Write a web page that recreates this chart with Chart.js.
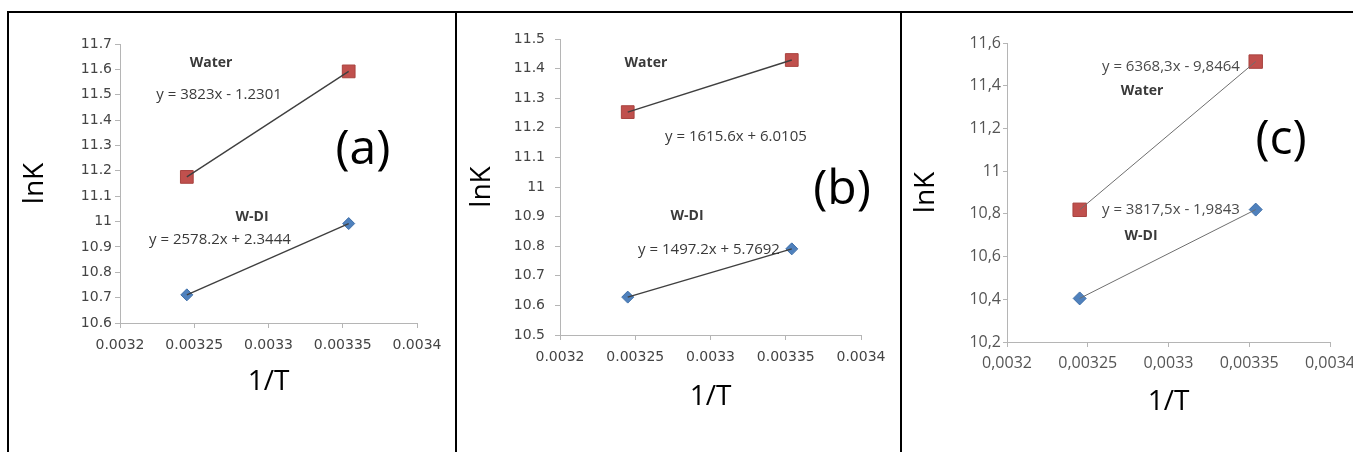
<!DOCTYPE html>
<html>
<head>
<meta charset="utf-8">
<script src="https://cdn.jsdelivr.net/npm/chart.js@4.4.1/dist/chart.umd.min.js"></script>
<style>
  html, body { margin: 0; padding: 0; background: #fff; overflow: hidden; width: 1353px; height: 452px; }
  .rule { position: absolute; background: #000; }
  canvas { position: absolute; }
</style>
</head>
<body>
<!-- table frame around the three panels -->
<div class="rule" style="left:7px;top:11px;width:1346px;height:2px"></div>
<div class="rule" style="left:7px;top:11px;width:2px;height:441px"></div>
<div class="rule" style="left:455px;top:11px;width:2px;height:441px"></div>
<div class="rule" style="left:900px;top:11px;width:2px;height:441px"></div>

<canvas id="panelA" width="443" height="438" style="left:10px;top:14px"></canvas>
<canvas id="panelB" width="442" height="438" style="left:458px;top:14px"></canvas>
<canvas id="panelC" width="470" height="438" style="left:903px;top:14px"></canvas>

<script>
// 1/T values (K^-1) shared by all three panels
const invT = [0.003245, 0.003354];

// ln K values per panel and series
const waterA = [11.176, 11.592];
const wdiA   = [10.711, 10.992];
const waterB = [11.253, 11.429];
const wdiB   = [10.628, 10.791];
const waterC = [10.819, 11.513];
const wdiC   = [10.404, 10.820];

// axis ticks
const xTicks = [0.0032, 0.00325, 0.0033, 0.00335, 0.0034];
const xTickLabelsDot   = ['0.0032', '0.00325', '0.0033', '0.00335', '0.0034'];
const xTickLabelsComma = ['0,0032', '0,00325', '0,0033', '0,00335', '0,0034'];

const yTicksA = [10.6, 10.7, 10.8, 10.9, 11, 11.1, 11.2, 11.3, 11.4, 11.5, 11.6, 11.7];
const yTickLabelsA = ['10.6', '10.7', '10.8', '10.9', '11', '11.1', '11.2', '11.3', '11.4', '11.5', '11.6', '11.7'];
const yTicksB = [10.5, 10.6, 10.7, 10.8, 10.9, 11, 11.1, 11.2, 11.3, 11.4, 11.5];
const yTickLabelsB = ['10.5', '10.6', '10.7', '10.8', '10.9', '11', '11.1', '11.2', '11.3', '11.4', '11.5'];
const yTicksC = [10.2, 10.4, 10.6, 10.8, 11, 11.2, 11.4, 11.6];
const yTickLabelsC = ['10,2', '10,4', '10,6', '10,8', '11', '11,2', '11,4', '11,6'];

// texts
const seriesNames = ['Water', 'W-DI'];
const eqA = ['y = 3823x - 1.2301', 'y = 2578.2x + 2.3444'];
const eqB = ['y = 1615.6x + 6.0105', 'y = 1497.2x + 5.7692'];
const eqC = ['y = 6368,3x - 9,8464', 'y = 3817,5x - 1,9843'];
const panelTags = ['(a)', '(b)', '(c)'];
const xTitle = '1/T';
const yTitle = 'lnK';

Chart.defaults.font.family = "'Open Sans', 'DejaVu Sans', sans-serif";

// free text placed in data units (series names, fit equations, panel tag)
const notesPlugin = {
  id: 'notes',
  afterDatasetsDraw(chart, args, opts) {
    const { ctx } = chart;
    const x = chart.scales.x, y = chart.scales.y;
    ctx.save();
    ctx.textAlign = 'center';
    ctx.textBaseline = 'middle';
    for (const n of opts.items || []) {
      ctx.font = n.font;
      ctx.fillStyle = n.color;
      ctx.fillText(n.text, x.getPixelForValue(n.at[0]), y.getPixelForValue(n.at[1]));
    }
    ctx.restore();
  }
};

function pts(ys) { return invT.map((v, i) => ({ x: v, y: ys[i] })); }

function makePanel(id, p) {
  const axisColor = '#b5b5b5';
  const tickFont = { size: p.tickSize, family: p.tickFamily };
  new Chart(document.getElementById(id), {
    type: 'scatter',
    data: {
      datasets: [
        { label: 'Water fit', data: pts(p.water), showLine: true, pointRadius: 0,
          borderColor: p.lineColor, borderWidth: p.lineWidth, order: 0 },
        { label: 'W-DI fit', data: pts(p.wdi), showLine: true, pointRadius: 0,
          borderColor: p.lineColor, borderWidth: p.lineWidth, order: 0 },
        { label: seriesNames[0], data: pts(p.water), pointStyle: 'rect', pointRadius: p.sq,
          backgroundColor: '#c0504d', borderColor: '#a8433f', borderWidth: 1, order: 1 },
        { label: seriesNames[1], data: pts(p.wdi), pointStyle: 'rectRot', pointRadius: p.dia,
          backgroundColor: '#4f81bd', borderColor: '#3f6fa8', borderWidth: 1, order: 1 }
      ]
    },
    options: {
      responsive: false,
      animation: false,
      events: [],
      devicePixelRatio: 1,
      layout: { padding: { top: p.padTop, right: p.padRight, left: 0, bottom: 0 } },
      plugins: {
        legend: { display: false },
        tooltip: { enabled: false },
        notes: { items: p.notes }
      },
      scales: {
        x: {
          type: 'linear', min: 0.0032, max: 0.0034,
          afterBuildTicks: s => { s.ticks = xTicks.map(v => ({ value: v })); },
          afterFit: s => { s.height = p.xBox; },
          border: { display: true, color: axisColor, width: 1 },
          grid: { drawOnChartArea: false, drawTicks: true, tickLength: 5, color: axisColor },
          ticks: { autoSkip: false, maxRotation: 0, padding: p.xTickPad, color: p.tickColor,
                   font: tickFont, callback: (v, i) => p.xLabels[i] },
          title: { display: true, text: xTitle, color: '#000', font: { size: 28 },
                   padding: { top: 0, bottom: p.xTitlePad } }
        },
        y: {
          type: 'linear', min: p.yTicks[0], max: p.yTicks[p.yTicks.length - 1],
          afterBuildTicks: s => { s.ticks = p.yTicks.map(v => ({ value: v })); },
          afterFit: s => { s.width = p.yBox; },
          border: { display: true, color: axisColor, width: 1 },
          grid: { drawOnChartArea: false, drawTicks: true, tickLength: p.yTickLen, color: axisColor },
          ticks: { autoSkip: false, padding: p.yTickPad, color: p.tickColor,
                   font: tickFont, callback: (v, i) => p.yLabels[i] },
          title: { display: true, text: yTitle, color: '#000', font: { size: 28 },
                   padding: { top: p.yTitlePad, bottom: 0 } }
        }
      }
    },
    plugins: [notesPlugin]
  });
}

const labelDark = '#3a3a3a';

makePanel('panelA', {
  water: waterA, wdi: wdiA, yTicks: yTicksA, yLabels: yTickLabelsA, xLabels: xTickLabelsDot,
  padTop: 30, padRight: 36, yBox: 110, xBox: 129,
  xTickPad: 9, yTickPad: 3, yTickLen: 5, tickSize: 14, tickFamily: "'DejaVu Sans', sans-serif", tickColor: '#444444',
  xTitlePad: 53, yTitlePad: 8,
  lineColor: '#3f3f3f', lineWidth: 1.4, sq: 9, dia: 6,
  notes: [
    { text: seriesNames[0], at: [0.0032613, 11.625], font: 'bold 14px "Open Sans"', color: labelDark },
    { text: eqA[0], at: [0.0032667, 11.499], font: '15px "Open Sans"', color: labelDark },
    { text: seriesNames[1], at: [0.0032889, 11.018], font: 'bold 14px "Open Sans"', color: labelDark },
    { text: eqA[1], at: [0.0032673, 10.927], font: '15px "Open Sans"', color: labelDark },
    { text: panelTags[0], at: [0.0033636, 11.28], font: '48px "Open Sans"', color: '#000' }
  ]
});

makePanel('panelB', {
  water: waterB, wdi: wdiB, yTicks: yTicksB, yLabels: yTickLabelsB, xLabels: xTickLabelsDot,
  padTop: 25, padRight: 39, yBox: 102, xBox: 117,
  xTickPad: 9, yTickPad: 10, yTickLen: 5, tickSize: 14, tickFamily: "'DejaVu Sans', sans-serif", tickColor: '#444444',
  xTitlePad: 38, yTitlePad: 7,
  lineColor: '#3f3f3f', lineWidth: 1.4, sq: 9, dia: 6,
  notes: [
    { text: seriesNames[0], at: [0.0032571, 11.419], font: 'bold 14px "Open Sans"', color: labelDark },
    { text: eqB[0], at: [0.0033169, 11.169], font: '15px "Open Sans"', color: labelDark },
    { text: seriesNames[1], at: [0.0032844, 10.902], font: 'bold 14px "Open Sans"', color: labelDark },
    { text: eqB[1], at: [0.0032990, 10.787], font: '15px "Open Sans"', color: labelDark },
    { text: panelTags[1], at: [0.0033874, 10.99], font: '48px "Open Sans"', color: '#000' }
  ]
});

makePanel('panelC', {
  water: waterC, wdi: wdiC, yTicks: yTicksC, yLabels: yTickLabelsC, xLabels: xTickLabelsComma,
  padTop: 29, padRight: 43, yBox: 104, xBox: 110,
  xTickPad: 7, yTickPad: 2, yTickLen: 4, tickSize: 16, tickFamily: "'Open Sans', sans-serif", tickColor: '#555555',
  xTitlePad: 33, yTitlePad: 6,
  lineColor: '#6e6e6e', lineWidth: 1, sq: 9.5, dia: 6.5,
  notes: [
    { text: eqC[0], at: [0.0033015, 11.488], font: '15px "Open Sans"', color: '#4a4a4a' },
    { text: seriesNames[0], at: [0.0032836, 11.375], font: 'bold 14px "Open Sans"', color: labelDark },
    { text: eqC[1], at: [0.0033015, 10.818], font: '15px "Open Sans"', color: '#4a4a4a' },
    { text: seriesNames[1], at: [0.0032830, 10.696], font: 'bold 14px "Open Sans"', color: labelDark },
    { text: panelTags[2], at: [0.0033697, 11.145], font: '48px "Open Sans"', color: '#000' }
  ]
});
</script>
</body>
</html>
